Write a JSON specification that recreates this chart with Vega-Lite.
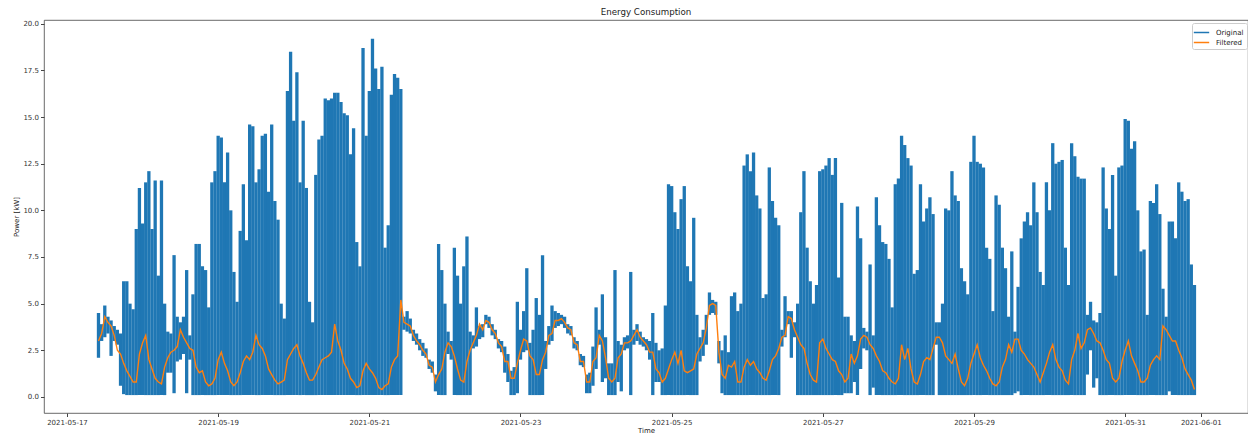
{
"$schema":"https://vega.github.io/schema/vega-lite/v6.json",
"width":1204,"height":393,
"autosize":{"type":"none"},
"padding":{"left":44,"top":20,"right":0,"bottom":22},
"background":"white",
"title":{"text":"Energy Consumption","fontSize":8.7,"font":"DejaVu Sans","fontWeight":"normal","color":"#222","anchor":"middle","offset":3},
"config":{
 "view":{"stroke":"#444","strokeWidth":0.8},
 "axis":{"labelFont":"DejaVu Sans","titleFont":"DejaVu Sans","labelFontSize":7,"titleFontSize":7,"titleFontWeight":"normal","labelColor":"#333","titleColor":"#222","tickColor":"#444","domainColor":"#444","tickSize":3.5,"labelPadding":2,"grid":false,"domain":false},
 "legend":{"labelFont":"DejaVu Sans","labelFontSize":7,"labelColor":"#222"}
},
"data":{"values":[
{"t":"2021-05-17T10:00","lo":2.1,"hi":4.5,"f":3.0},
{"t":"2021-05-17T11:00","lo":3.0,"hi":3.9,"f":3.4},
{"t":"2021-05-17T12:00","lo":3.2,"hi":4.9,"f":4.3},
{"t":"2021-05-17T13:00","lo":3.4,"hi":4.3,"f":4.0},
{"t":"2021-05-17T14:00","lo":2.2,"hi":4.1,"f":3.8},
{"t":"2021-05-17T15:00","lo":3.0,"hi":3.8,"f":3.3},
{"t":"2021-05-17T16:00","lo":2.8,"hi":3.6,"f":2.5},
{"t":"2021-05-17T17:00","lo":0.6,"hi":3.4,"f":2.3},
{"t":"2021-05-17T18:00","lo":0.15,"hi":6.2,"f":1.8},
{"t":"2021-05-17T19:00","lo":0.1,"hi":6.2,"f":1.4},
{"t":"2021-05-17T20:00","lo":0.1,"hi":5.0,"f":1.1},
{"t":"2021-05-17T21:00","lo":0.1,"hi":4.7,"f":0.8},
{"t":"2021-05-17T22:00","lo":0.1,"hi":9.0,"f":0.8},
{"t":"2021-05-17T23:00","lo":0.1,"hi":11.2,"f":2.3},
{"t":"2021-05-18T00:00","lo":0.1,"hi":9.3,"f":2.9},
{"t":"2021-05-18T01:00","lo":0.1,"hi":11.5,"f":3.3},
{"t":"2021-05-18T02:00","lo":0.1,"hi":12.1,"f":2.0},
{"t":"2021-05-18T03:00","lo":0.1,"hi":9.0,"f":1.5},
{"t":"2021-05-18T04:00","lo":0.1,"hi":11.6,"f":1.0},
{"t":"2021-05-18T05:00","lo":0.1,"hi":6.5,"f":0.8},
{"t":"2021-05-18T06:00","lo":0.1,"hi":11.6,"f":0.7},
{"t":"2021-05-18T07:00","lo":0.1,"hi":5.0,"f":1.6},
{"t":"2021-05-18T08:00","lo":1.3,"hi":3.5,"f":2.1},
{"t":"2021-05-18T09:00","lo":1.3,"hi":3.4,"f":2.4},
{"t":"2021-05-18T10:00","lo":0.2,"hi":7.6,"f":2.5},
{"t":"2021-05-18T11:00","lo":1.9,"hi":4.3,"f":2.7},
{"t":"2021-05-18T12:00","lo":2.0,"hi":4.0,"f":3.6},
{"t":"2021-05-18T13:00","lo":2.3,"hi":4.3,"f":3.2},
{"t":"2021-05-18T14:00","lo":0.2,"hi":6.8,"f":2.9},
{"t":"2021-05-18T15:00","lo":2.0,"hi":3.3,"f":2.6},
{"t":"2021-05-18T16:00","lo":0.1,"hi":5.5,"f":2.5},
{"t":"2021-05-18T17:00","lo":0.1,"hi":8.2,"f":1.6},
{"t":"2021-05-18T18:00","lo":0.1,"hi":8.2,"f":1.3},
{"t":"2021-05-18T19:00","lo":0.1,"hi":7.0,"f":1.4},
{"t":"2021-05-18T20:00","lo":0.1,"hi":6.8,"f":0.8},
{"t":"2021-05-18T21:00","lo":0.1,"hi":4.8,"f":0.6},
{"t":"2021-05-18T22:00","lo":0.1,"hi":11.5,"f":0.7},
{"t":"2021-05-18T23:00","lo":0.1,"hi":12.1,"f":1.0},
{"t":"2021-05-19T00:00","lo":0.1,"hi":14.0,"f":2.0},
{"t":"2021-05-19T01:00","lo":0.1,"hi":13.9,"f":2.4},
{"t":"2021-05-19T02:00","lo":0.1,"hi":11.5,"f":1.8},
{"t":"2021-05-19T03:00","lo":0.1,"hi":13.1,"f":1.4},
{"t":"2021-05-19T04:00","lo":0.1,"hi":10.0,"f":0.8},
{"t":"2021-05-19T05:00","lo":0.1,"hi":6.7,"f":0.6},
{"t":"2021-05-19T06:00","lo":0.1,"hi":5.1,"f":0.8},
{"t":"2021-05-19T07:00","lo":0.1,"hi":8.9,"f":1.3},
{"t":"2021-05-19T08:00","lo":0.1,"hi":11.4,"f":1.9},
{"t":"2021-05-19T09:00","lo":0.1,"hi":8.4,"f":2.2},
{"t":"2021-05-19T10:00","lo":0.1,"hi":14.6,"f":2.0},
{"t":"2021-05-19T11:00","lo":0.1,"hi":14.5,"f":2.4},
{"t":"2021-05-19T12:00","lo":0.1,"hi":11.5,"f":3.3},
{"t":"2021-05-19T13:00","lo":0.1,"hi":12.2,"f":2.8},
{"t":"2021-05-19T14:00","lo":0.1,"hi":14.0,"f":2.6},
{"t":"2021-05-19T15:00","lo":0.1,"hi":14.1,"f":2.2},
{"t":"2021-05-19T16:00","lo":0.1,"hi":11.0,"f":1.5},
{"t":"2021-05-19T17:00","lo":0.1,"hi":14.6,"f":1.2},
{"t":"2021-05-19T18:00","lo":0.1,"hi":10.5,"f":0.9},
{"t":"2021-05-19T19:00","lo":0.1,"hi":9.5,"f":0.7},
{"t":"2021-05-19T20:00","lo":0.1,"hi":5.0,"f":0.8},
{"t":"2021-05-19T21:00","lo":0.1,"hi":4.2,"f":0.9},
{"t":"2021-05-19T22:00","lo":0.1,"hi":16.4,"f":2.0},
{"t":"2021-05-19T23:00","lo":0.1,"hi":18.5,"f":2.3},
{"t":"2021-05-20T00:00","lo":0.1,"hi":14.8,"f":2.6},
{"t":"2021-05-20T01:00","lo":0.1,"hi":17.4,"f":2.8},
{"t":"2021-05-20T02:00","lo":0.1,"hi":11.5,"f":2.2},
{"t":"2021-05-20T03:00","lo":0.1,"hi":14.8,"f":1.8},
{"t":"2021-05-20T04:00","lo":0.1,"hi":11.2,"f":1.3},
{"t":"2021-05-20T05:00","lo":0.1,"hi":5.1,"f":0.9},
{"t":"2021-05-20T06:00","lo":0.1,"hi":4.0,"f":0.9},
{"t":"2021-05-20T07:00","lo":0.1,"hi":11.9,"f":1.2},
{"t":"2021-05-20T08:00","lo":0.1,"hi":13.8,"f":1.6},
{"t":"2021-05-20T09:00","lo":0.1,"hi":14.0,"f":2.0},
{"t":"2021-05-20T10:00","lo":0.1,"hi":16.0,"f":2.1},
{"t":"2021-05-20T11:00","lo":0.1,"hi":15.9,"f":2.2},
{"t":"2021-05-20T12:00","lo":0.1,"hi":16.0,"f":2.4},
{"t":"2021-05-20T13:00","lo":0.1,"hi":16.3,"f":3.9},
{"t":"2021-05-20T14:00","lo":0.1,"hi":16.3,"f":3.0},
{"t":"2021-05-20T15:00","lo":0.1,"hi":15.8,"f":2.5},
{"t":"2021-05-20T16:00","lo":0.1,"hi":15.2,"f":1.8},
{"t":"2021-05-20T17:00","lo":0.1,"hi":15.1,"f":1.5},
{"t":"2021-05-20T18:00","lo":0.1,"hi":13.0,"f":1.0},
{"t":"2021-05-20T19:00","lo":0.1,"hi":14.4,"f":0.8},
{"t":"2021-05-20T20:00","lo":0.1,"hi":8.3,"f":0.5},
{"t":"2021-05-20T21:00","lo":0.1,"hi":7.0,"f":0.6},
{"t":"2021-05-20T22:00","lo":0.1,"hi":18.7,"f":1.4},
{"t":"2021-05-20T23:00","lo":0.1,"hi":14.0,"f":1.8},
{"t":"2021-05-21T00:00","lo":0.1,"hi":16.4,"f":1.5},
{"t":"2021-05-21T01:00","lo":0.1,"hi":19.2,"f":1.3},
{"t":"2021-05-21T02:00","lo":0.1,"hi":17.6,"f":1.0},
{"t":"2021-05-21T03:00","lo":0.1,"hi":16.5,"f":0.5},
{"t":"2021-05-21T04:00","lo":0.1,"hi":17.7,"f":0.4},
{"t":"2021-05-21T05:00","lo":0.1,"hi":8.0,"f":0.6},
{"t":"2021-05-21T06:00","lo":0.1,"hi":9.2,"f":0.7},
{"t":"2021-05-21T07:00","lo":0.1,"hi":16.2,"f":1.6},
{"t":"2021-05-21T08:00","lo":0.1,"hi":17.3,"f":2.0},
{"t":"2021-05-21T09:00","lo":0.1,"hi":17.1,"f":2.2},
{"t":"2021-05-21T10:00","lo":0.1,"hi":16.5,"f":5.2},
{"t":"2021-05-21T11:00","lo":3.6,"hi":4.3,"f":4.0},
{"t":"2021-05-21T12:00","lo":3.5,"hi":4.6,"f":3.9},
{"t":"2021-05-21T13:00","lo":3.4,"hi":4.2,"f":3.8},
{"t":"2021-05-21T14:00","lo":3.0,"hi":3.6,"f":3.3},
{"t":"2021-05-21T15:00","lo":2.8,"hi":3.4,"f":3.0},
{"t":"2021-05-21T16:00","lo":2.5,"hi":3.1,"f":2.8},
{"t":"2021-05-21T17:00","lo":2.2,"hi":2.9,"f":2.5},
{"t":"2021-05-21T18:00","lo":2.1,"hi":2.6,"f":2.3},
{"t":"2021-05-21T19:00","lo":1.5,"hi":2.0,"f":1.7},
{"t":"2021-05-21T20:00","lo":1.3,"hi":1.9,"f":1.6},
{"t":"2021-05-21T21:00","lo":0.3,"hi":1.2,"f":0.8},
{"t":"2021-05-21T22:00","lo":0.1,"hi":8.2,"f":1.2},
{"t":"2021-05-21T23:00","lo":0.1,"hi":6.8,"f":1.5},
{"t":"2021-05-22T00:00","lo":0.1,"hi":5.0,"f":2.4},
{"t":"2021-05-22T01:00","lo":2.3,"hi":3.5,"f":2.9},
{"t":"2021-05-22T02:00","lo":2.0,"hi":3.0,"f":2.7},
{"t":"2021-05-22T03:00","lo":0.1,"hi":8.0,"f":2.2},
{"t":"2021-05-22T04:00","lo":0.1,"hi":6.5,"f":1.5},
{"t":"2021-05-22T05:00","lo":0.1,"hi":5.0,"f":0.9},
{"t":"2021-05-22T06:00","lo":0.1,"hi":7.0,"f":0.8},
{"t":"2021-05-22T07:00","lo":0.1,"hi":8.6,"f":1.9},
{"t":"2021-05-22T08:00","lo":0.1,"hi":3.5,"f":2.5},
{"t":"2021-05-22T09:00","lo":2.6,"hi":3.3,"f":2.9},
{"t":"2021-05-22T10:00","lo":2.7,"hi":4.8,"f":3.3},
{"t":"2021-05-22T11:00","lo":3.1,"hi":3.8,"f":3.9},
{"t":"2021-05-22T12:00","lo":3.2,"hi":3.9,"f":3.6},
{"t":"2021-05-22T13:00","lo":3.9,"hi":4.4,"f":4.1},
{"t":"2021-05-22T14:00","lo":3.7,"hi":4.3,"f":4.0},
{"t":"2021-05-22T15:00","lo":3.3,"hi":3.9,"f":3.6},
{"t":"2021-05-22T16:00","lo":3.1,"hi":3.6,"f":3.4},
{"t":"2021-05-22T17:00","lo":2.6,"hi":3.1,"f":2.9},
{"t":"2021-05-22T18:00","lo":2.4,"hi":3.0,"f":2.7},
{"t":"2021-05-22T19:00","lo":1.3,"hi":2.7,"f":1.9},
{"t":"2021-05-22T20:00","lo":0.8,"hi":2.3,"f":1.9},
{"t":"2021-05-22T21:00","lo":0.1,"hi":1.4,"f":1.0},
{"t":"2021-05-22T22:00","lo":0.1,"hi":1.6,"f":1.0},
{"t":"2021-05-22T23:00","lo":0.2,"hi":5.1,"f":1.8},
{"t":"2021-05-23T00:00","lo":2.0,"hi":3.6,"f":2.5},
{"t":"2021-05-23T01:00","lo":2.4,"hi":4.6,"f":3.1},
{"t":"2021-05-23T02:00","lo":2.5,"hi":6.9,"f":3.0},
{"t":"2021-05-23T03:00","lo":0.1,"hi":2.9,"f":2.2},
{"t":"2021-05-23T04:00","lo":0.1,"hi":3.6,"f":2.0},
{"t":"2021-05-23T05:00","lo":0.1,"hi":5.3,"f":1.2},
{"t":"2021-05-23T06:00","lo":0.1,"hi":4.4,"f":1.2},
{"t":"2021-05-23T07:00","lo":0.1,"hi":7.6,"f":2.0},
{"t":"2021-05-23T08:00","lo":1.5,"hi":3.0,"f":2.4},
{"t":"2021-05-23T09:00","lo":2.8,"hi":3.8,"f":3.3},
{"t":"2021-05-23T10:00","lo":3.0,"hi":4.9,"f":3.4},
{"t":"2021-05-23T11:00","lo":3.7,"hi":4.6,"f":4.1},
{"t":"2021-05-23T12:00","lo":3.8,"hi":4.5,"f":4.1},
{"t":"2021-05-23T13:00","lo":3.9,"hi":4.4,"f":4.2},
{"t":"2021-05-23T14:00","lo":3.7,"hi":4.3,"f":4.0},
{"t":"2021-05-23T15:00","lo":3.4,"hi":3.9,"f":3.7},
{"t":"2021-05-23T16:00","lo":3.3,"hi":3.8,"f":3.6},
{"t":"2021-05-23T17:00","lo":2.6,"hi":3.2,"f":2.9},
{"t":"2021-05-23T18:00","lo":2.5,"hi":3.0,"f":2.8},
{"t":"2021-05-23T19:00","lo":1.7,"hi":2.3,"f":1.9},
{"t":"2021-05-23T20:00","lo":1.6,"hi":2.2,"f":1.9},
{"t":"2021-05-23T21:00","lo":0.2,"hi":1.2,"f":0.8},
{"t":"2021-05-23T22:00","lo":0.2,"hi":1.3,"f":0.8},
{"t":"2021-05-23T23:00","lo":0.6,"hi":2.7,"f":1.9},
{"t":"2021-05-24T00:00","lo":1.5,"hi":4.8,"f":2.1},
{"t":"2021-05-24T01:00","lo":2.8,"hi":3.6,"f":3.3},
{"t":"2021-05-24T02:00","lo":0.8,"hi":5.5,"f":3.0},
{"t":"2021-05-24T03:00","lo":1.0,"hi":3.2,"f":2.1},
{"t":"2021-05-24T04:00","lo":0.1,"hi":1.8,"f":1.0},
{"t":"2021-05-24T05:00","lo":0.1,"hi":1.8,"f":0.8},
{"t":"2021-05-24T06:00","lo":0.1,"hi":6.8,"f":1.0},
{"t":"2021-05-24T07:00","lo":0.8,"hi":3.0,"f":2.1},
{"t":"2021-05-24T08:00","lo":0.3,"hi":2.8,"f":2.3},
{"t":"2021-05-24T09:00","lo":2.5,"hi":3.2,"f":2.9},
{"t":"2021-05-24T10:00","lo":2.6,"hi":3.3,"f":2.9},
{"t":"2021-05-24T11:00","lo":0.1,"hi":6.7,"f":3.0},
{"t":"2021-05-24T12:00","lo":2.8,"hi":3.6,"f":3.3},
{"t":"2021-05-24T13:00","lo":3.0,"hi":3.9,"f":3.6},
{"t":"2021-05-24T14:00","lo":2.8,"hi":3.5,"f":3.2},
{"t":"2021-05-24T15:00","lo":2.7,"hi":3.2,"f":3.0},
{"t":"2021-05-24T16:00","lo":2.5,"hi":3.1,"f":2.8},
{"t":"2021-05-24T17:00","lo":2.0,"hi":3.0,"f":2.4},
{"t":"2021-05-24T18:00","lo":0.1,"hi":4.5,"f":2.4},
{"t":"2021-05-24T19:00","lo":0.8,"hi":2.9,"f":1.5},
{"t":"2021-05-24T20:00","lo":0.8,"hi":2.5,"f":1.3},
{"t":"2021-05-24T21:00","lo":0.1,"hi":2.6,"f":0.8},
{"t":"2021-05-24T22:00","lo":0.1,"hi":4.9,"f":1.0},
{"t":"2021-05-24T23:00","lo":0.1,"hi":11.4,"f":1.5},
{"t":"2021-05-25T00:00","lo":0.1,"hi":11.3,"f":2.0},
{"t":"2021-05-25T01:00","lo":0.1,"hi":9.9,"f":2.4},
{"t":"2021-05-25T02:00","lo":0.1,"hi":9.0,"f":1.8},
{"t":"2021-05-25T03:00","lo":0.1,"hi":10.6,"f":2.5},
{"t":"2021-05-25T04:00","lo":0.1,"hi":11.3,"f":1.4},
{"t":"2021-05-25T05:00","lo":0.1,"hi":7.0,"f":1.3},
{"t":"2021-05-25T06:00","lo":0.1,"hi":6.2,"f":1.4},
{"t":"2021-05-25T07:00","lo":0.1,"hi":9.6,"f":1.5},
{"t":"2021-05-25T08:00","lo":0.1,"hi":4.4,"f":2.3},
{"t":"2021-05-25T09:00","lo":1.9,"hi":3.2,"f":2.6},
{"t":"2021-05-25T10:00","lo":2.2,"hi":3.6,"f":2.9},
{"t":"2021-05-25T11:00","lo":2.8,"hi":4.4,"f":3.7},
{"t":"2021-05-25T12:00","lo":4.4,"hi":5.6,"f":4.9},
{"t":"2021-05-25T13:00","lo":4.5,"hi":5.2,"f":5.0},
{"t":"2021-05-25T14:00","lo":4.4,"hi":5.1,"f":4.9},
{"t":"2021-05-25T15:00","lo":1.8,"hi":3.0,"f":2.4},
{"t":"2021-05-25T16:00","lo":0.2,"hi":2.5,"f":1.2},
{"t":"2021-05-25T17:00","lo":0.1,"hi":3.3,"f":1.0},
{"t":"2021-05-25T18:00","lo":0.1,"hi":2.4,"f":1.7},
{"t":"2021-05-25T19:00","lo":0.1,"hi":5.4,"f":1.6},
{"t":"2021-05-25T20:00","lo":0.1,"hi":5.6,"f":1.9},
{"t":"2021-05-25T21:00","lo":0.1,"hi":4.6,"f":0.8},
{"t":"2021-05-25T22:00","lo":0.1,"hi":5.0,"f":0.8},
{"t":"2021-05-25T23:00","lo":0.1,"hi":12.4,"f":1.6},
{"t":"2021-05-26T00:00","lo":0.1,"hi":13.0,"f":2.0},
{"t":"2021-05-26T01:00","lo":0.1,"hi":12.1,"f":1.7},
{"t":"2021-05-26T02:00","lo":0.1,"hi":13.1,"f":1.9},
{"t":"2021-05-26T03:00","lo":0.1,"hi":10.8,"f":1.5},
{"t":"2021-05-26T04:00","lo":0.1,"hi":10.1,"f":1.3},
{"t":"2021-05-26T05:00","lo":0.1,"hi":5.3,"f":1.0},
{"t":"2021-05-26T06:00","lo":0.1,"hi":5.5,"f":0.9},
{"t":"2021-05-26T07:00","lo":0.1,"hi":12.3,"f":1.4},
{"t":"2021-05-26T08:00","lo":0.1,"hi":10.5,"f":2.0},
{"t":"2021-05-26T09:00","lo":0.1,"hi":9.6,"f":2.2},
{"t":"2021-05-26T10:00","lo":0.1,"hi":9.2,"f":2.6},
{"t":"2021-05-26T11:00","lo":2.7,"hi":3.6,"f":3.2},
{"t":"2021-05-26T12:00","lo":3.2,"hi":5.4,"f":3.3},
{"t":"2021-05-26T13:00","lo":3.9,"hi":4.6,"f":4.3},
{"t":"2021-05-26T14:00","lo":2.1,"hi":4.6,"f":4.2},
{"t":"2021-05-26T15:00","lo":3.2,"hi":4.0,"f":3.6},
{"t":"2021-05-26T16:00","lo":0.1,"hi":5.0,"f":3.2},
{"t":"2021-05-26T17:00","lo":0.1,"hi":9.9,"f":2.8},
{"t":"2021-05-26T18:00","lo":0.1,"hi":12.1,"f":2.6},
{"t":"2021-05-26T19:00","lo":0.1,"hi":8.0,"f":1.8},
{"t":"2021-05-26T20:00","lo":0.1,"hi":6.2,"f":1.2},
{"t":"2021-05-26T21:00","lo":0.1,"hi":5.0,"f":0.9},
{"t":"2021-05-26T22:00","lo":0.1,"hi":6.0,"f":0.8},
{"t":"2021-05-26T23:00","lo":0.1,"hi":12.1,"f":2.9},
{"t":"2021-05-27T00:00","lo":0.1,"hi":12.2,"f":3.1},
{"t":"2021-05-27T01:00","lo":0.1,"hi":12.4,"f":2.6},
{"t":"2021-05-27T02:00","lo":0.1,"hi":12.8,"f":2.3},
{"t":"2021-05-27T03:00","lo":0.1,"hi":11.9,"f":2.0},
{"t":"2021-05-27T04:00","lo":0.1,"hi":12.8,"f":1.9},
{"t":"2021-05-27T05:00","lo":0.1,"hi":6.4,"f":1.4},
{"t":"2021-05-27T06:00","lo":0.1,"hi":10.4,"f":1.2},
{"t":"2021-05-27T07:00","lo":0.2,"hi":4.3,"f":0.8},
{"t":"2021-05-27T08:00","lo":0.2,"hi":4.3,"f":1.0},
{"t":"2021-05-27T09:00","lo":0.2,"hi":3.3,"f":2.3},
{"t":"2021-05-27T10:00","lo":0.8,"hi":3.0,"f":1.8},
{"t":"2021-05-27T11:00","lo":0.1,"hi":10.2,"f":2.2},
{"t":"2021-05-27T12:00","lo":1.5,"hi":8.5,"f":3.1},
{"t":"2021-05-27T13:00","lo":2.6,"hi":3.7,"f":3.3},
{"t":"2021-05-27T14:00","lo":2.5,"hi":3.5,"f":3.2},
{"t":"2021-05-27T15:00","lo":0.1,"hi":7.1,"f":2.8},
{"t":"2021-05-27T16:00","lo":0.5,"hi":3.3,"f":2.6},
{"t":"2021-05-27T17:00","lo":0.1,"hi":10.7,"f":2.2},
{"t":"2021-05-27T18:00","lo":0.1,"hi":9.2,"f":1.9},
{"t":"2021-05-27T19:00","lo":0.1,"hi":8.3,"f":1.4},
{"t":"2021-05-27T20:00","lo":0.1,"hi":8.2,"f":1.3},
{"t":"2021-05-27T21:00","lo":0.1,"hi":7.4,"f":1.0},
{"t":"2021-05-27T22:00","lo":0.1,"hi":4.8,"f":0.8},
{"t":"2021-05-27T23:00","lo":0.1,"hi":11.4,"f":0.7},
{"t":"2021-05-28T00:00","lo":0.1,"hi":11.7,"f":1.0},
{"t":"2021-05-28T01:00","lo":0.1,"hi":14.0,"f":2.8},
{"t":"2021-05-28T02:00","lo":0.1,"hi":13.5,"f":2.0},
{"t":"2021-05-28T03:00","lo":0.1,"hi":12.8,"f":2.6},
{"t":"2021-05-28T04:00","lo":0.1,"hi":12.4,"f":1.5},
{"t":"2021-05-28T05:00","lo":0.1,"hi":6.6,"f":0.8},
{"t":"2021-05-28T06:00","lo":0.1,"hi":6.8,"f":0.7},
{"t":"2021-05-28T07:00","lo":0.1,"hi":11.4,"f":1.2},
{"t":"2021-05-28T08:00","lo":0.1,"hi":9.4,"f":1.9},
{"t":"2021-05-28T09:00","lo":0.1,"hi":10.1,"f":2.1},
{"t":"2021-05-28T10:00","lo":0.1,"hi":10.7,"f":2.0},
{"t":"2021-05-28T11:00","lo":0.1,"hi":9.8,"f":2.6},
{"t":"2021-05-28T12:00","lo":2.8,"hi":4.0,"f":3.2},
{"t":"2021-05-28T13:00","lo":0.1,"hi":4.0,"f":3.2},
{"t":"2021-05-28T14:00","lo":0.1,"hi":5.0,"f":2.9},
{"t":"2021-05-28T15:00","lo":0.1,"hi":10.1,"f":2.2},
{"t":"2021-05-28T16:00","lo":0.1,"hi":10.0,"f":2.0},
{"t":"2021-05-28T17:00","lo":0.1,"hi":12.1,"f":1.8},
{"t":"2021-05-28T18:00","lo":0.1,"hi":10.8,"f":2.3},
{"t":"2021-05-28T19:00","lo":0.1,"hi":10.5,"f":1.5},
{"t":"2021-05-28T20:00","lo":0.1,"hi":6.9,"f":0.8},
{"t":"2021-05-28T21:00","lo":0.1,"hi":6.2,"f":0.6},
{"t":"2021-05-28T22:00","lo":0.1,"hi":5.5,"f":1.0},
{"t":"2021-05-28T23:00","lo":0.1,"hi":12.6,"f":1.8},
{"t":"2021-05-29T00:00","lo":0.1,"hi":14.0,"f":2.3},
{"t":"2021-05-29T01:00","lo":0.1,"hi":12.6,"f":2.8},
{"t":"2021-05-29T02:00","lo":0.1,"hi":12.5,"f":2.1},
{"t":"2021-05-29T03:00","lo":0.1,"hi":12.3,"f":1.7},
{"t":"2021-05-29T04:00","lo":0.1,"hi":8.0,"f":1.4},
{"t":"2021-05-29T05:00","lo":0.1,"hi":7.4,"f":1.0},
{"t":"2021-05-29T06:00","lo":0.1,"hi":4.6,"f":0.7},
{"t":"2021-05-29T07:00","lo":0.1,"hi":10.8,"f":0.6},
{"t":"2021-05-29T08:00","lo":0.1,"hi":10.3,"f":0.8},
{"t":"2021-05-29T09:00","lo":0.1,"hi":8.0,"f":1.6},
{"t":"2021-05-29T10:00","lo":0.1,"hi":6.9,"f":2.0},
{"t":"2021-05-29T11:00","lo":0.1,"hi":4.3,"f":2.8},
{"t":"2021-05-29T12:00","lo":0.1,"hi":7.8,"f":2.4},
{"t":"2021-05-29T13:00","lo":0.2,"hi":3.5,"f":3.1},
{"t":"2021-05-29T14:00","lo":0.3,"hi":5.9,"f":3.1},
{"t":"2021-05-29T15:00","lo":0.1,"hi":8.5,"f":2.5},
{"t":"2021-05-29T16:00","lo":0.1,"hi":9.4,"f":2.3},
{"t":"2021-05-29T17:00","lo":0.1,"hi":9.9,"f":2.0},
{"t":"2021-05-29T18:00","lo":0.1,"hi":9.2,"f":1.8},
{"t":"2021-05-29T19:00","lo":0.1,"hi":11.5,"f":1.6},
{"t":"2021-05-29T20:00","lo":0.1,"hi":9.9,"f":1.2},
{"t":"2021-05-29T21:00","lo":0.1,"hi":6.7,"f":0.8},
{"t":"2021-05-29T22:00","lo":0.1,"hi":6.0,"f":1.3},
{"t":"2021-05-29T23:00","lo":0.1,"hi":11.5,"f":1.8},
{"t":"2021-05-30T00:00","lo":0.1,"hi":10.0,"f":2.4},
{"t":"2021-05-30T01:00","lo":0.1,"hi":13.6,"f":2.8},
{"t":"2021-05-30T02:00","lo":0.1,"hi":12.5,"f":2.0},
{"t":"2021-05-30T03:00","lo":0.1,"hi":12.6,"f":1.6},
{"t":"2021-05-30T04:00","lo":0.1,"hi":12.7,"f":1.4},
{"t":"2021-05-30T05:00","lo":0.1,"hi":8.0,"f":0.9},
{"t":"2021-05-30T06:00","lo":0.1,"hi":6.0,"f":0.7},
{"t":"2021-05-30T07:00","lo":0.1,"hi":13.6,"f":2.0},
{"t":"2021-05-30T08:00","lo":0.1,"hi":12.9,"f":2.5},
{"t":"2021-05-30T09:00","lo":0.1,"hi":11.8,"f":3.4},
{"t":"2021-05-30T10:00","lo":0.1,"hi":11.7,"f":2.6},
{"t":"2021-05-30T11:00","lo":0.1,"hi":11.7,"f":2.9},
{"t":"2021-05-30T12:00","lo":1.2,"hi":4.4,"f":3.6},
{"t":"2021-05-30T13:00","lo":2.5,"hi":5.1,"f":3.7},
{"t":"2021-05-30T14:00","lo":0.5,"hi":4.1,"f":3.4},
{"t":"2021-05-30T15:00","lo":1.0,"hi":4.0,"f":3.0},
{"t":"2021-05-30T16:00","lo":0.1,"hi":4.5,"f":2.9},
{"t":"2021-05-30T17:00","lo":0.1,"hi":12.3,"f":2.5},
{"t":"2021-05-30T18:00","lo":0.1,"hi":10.1,"f":2.0},
{"t":"2021-05-30T19:00","lo":0.1,"hi":9.0,"f":1.8},
{"t":"2021-05-30T20:00","lo":0.1,"hi":11.9,"f":1.0},
{"t":"2021-05-30T21:00","lo":0.1,"hi":6.5,"f":0.8},
{"t":"2021-05-30T22:00","lo":0.1,"hi":12.3,"f":1.0},
{"t":"2021-05-30T23:00","lo":0.1,"hi":12.4,"f":1.9},
{"t":"2021-05-31T00:00","lo":0.1,"hi":14.9,"f":2.5},
{"t":"2021-05-31T01:00","lo":0.1,"hi":14.8,"f":3.0},
{"t":"2021-05-31T02:00","lo":0.1,"hi":13.3,"f":2.2},
{"t":"2021-05-31T03:00","lo":0.1,"hi":13.7,"f":1.8},
{"t":"2021-05-31T04:00","lo":0.1,"hi":10.0,"f":1.4},
{"t":"2021-05-31T05:00","lo":0.1,"hi":7.8,"f":0.8},
{"t":"2021-05-31T06:00","lo":0.1,"hi":7.9,"f":0.8},
{"t":"2021-05-31T07:00","lo":0.1,"hi":4.4,"f":1.0},
{"t":"2021-05-31T08:00","lo":0.1,"hi":10.5,"f":1.7},
{"t":"2021-05-31T09:00","lo":0.1,"hi":10.4,"f":2.0},
{"t":"2021-05-31T10:00","lo":0.1,"hi":11.4,"f":2.2},
{"t":"2021-05-31T11:00","lo":0.1,"hi":9.8,"f":2.0},
{"t":"2021-05-31T12:00","lo":0.1,"hi":5.8,"f":3.8},
{"t":"2021-05-31T13:00","lo":0.1,"hi":4.3,"f":3.6},
{"t":"2021-05-31T14:00","lo":0.3,"hi":9.4,"f":3.3},
{"t":"2021-05-31T15:00","lo":0.1,"hi":9.4,"f":3.0},
{"t":"2021-05-31T16:00","lo":0.1,"hi":8.5,"f":3.0},
{"t":"2021-05-31T17:00","lo":0.1,"hi":11.5,"f":2.5},
{"t":"2021-05-31T18:00","lo":0.1,"hi":11.0,"f":2.1},
{"t":"2021-05-31T19:00","lo":0.1,"hi":10.5,"f":1.5},
{"t":"2021-05-31T20:00","lo":0.1,"hi":10.6,"f":1.2},
{"t":"2021-05-31T21:00","lo":0.1,"hi":7.1,"f":0.9},
{"t":"2021-05-31T22:00","lo":0.1,"hi":6.0,"f":0.4}
]},
"layer":[
 {"mark":{"type":"rule","strokeWidth":3.3},
  "encoding":{
   "x":{"field":"t","type":"temporal","title":"Time",
        "scale":{"domain":[{"year":2021,"month":5,"date":16,"hours":16,"minutes":42},{"year":2021,"month":6,"date":1,"hours":15,"minutes":0}]},
        "axis":{"format":"%Y-%m-%d","titlePadding":1,
          "values":[{"year":2021,"month":5,"date":17},{"year":2021,"month":5,"date":19},{"year":2021,"month":5,"date":21},{"year":2021,"month":5,"date":23},{"year":2021,"month":5,"date":25},{"year":2021,"month":5,"date":27},{"year":2021,"month":5,"date":29},{"year":2021,"month":5,"date":31},{"year":2021,"month":6,"date":1}]}},
   "y":{"field":"lo","type":"quantitative","title":"Power [kW]",
        "scale":{"domain":[-0.86,20.2],"nice":false,"zero":false},
        "axis":{"values":[0,2.5,5,7.5,10,12.5,15,17.5,20],"format":".1f","titlePadding":3}},
   "y2":{"field":"hi"},
   "color":{"datum":"Original","type":"nominal",
     "scale":{"domain":["Original","Filtered"],"range":["#1f77b4","#ff7f0e"]},
     "legend":{"title":null,"orient":"none","legendX":1148,"legendY":3,"symbolType":"M-1.4,0H1.4","symbolSize":121,"symbolStrokeWidth":1.5,"labelOffset":8,"rowPadding":0,"padding":3,"strokeColor":"#cccccc","fillColor":"white","cornerRadius":2}}
  }},
 {"mark":{"type":"line","strokeWidth":1.4},
  "encoding":{
   "x":{"field":"t","type":"temporal"},
   "y":{"field":"f","type":"quantitative"},
   "color":{"datum":"Filtered","type":"nominal"}
  }}
]
}
